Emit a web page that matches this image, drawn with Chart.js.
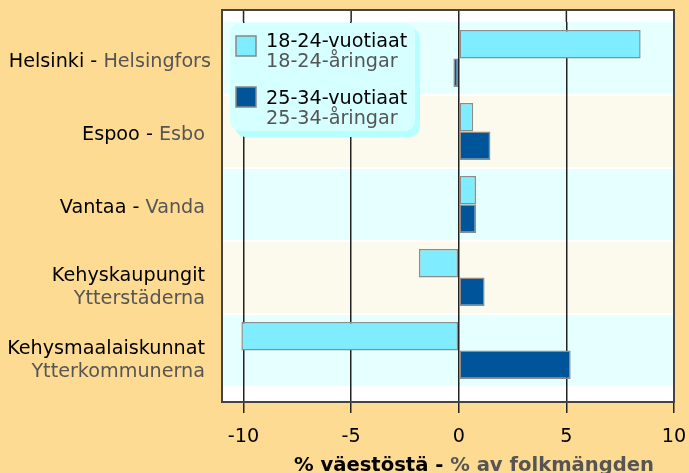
<!DOCTYPE html>
<html>
<head>
<meta charset="utf-8">
<script src="https://cdn.jsdelivr.net/npm/chart.js@4"></script>
<style>
  html, body { margin: 0; padding: 0; background: #fedb93; }
  #wrap { width: 689px; height: 473px; }
</style>
</head>
<body>
<div id="wrap"><canvas id="chart" width="689" height="473"></canvas></div>
<script>
// region names, Finnish + Swedish
const regionsFi = ["Helsinki", "Espoo", "Vantaa", "Kehyskaupungit", "Kehysmaalaiskunnat"];
const regionsSv = ["Helsingfors", "Esbo", "Vanda", "Ytterstäderna", "Ytterkommunerna"];

// change, % of population
const age18to24 = [8.45, 0.67, 0.8, -1.85, -10.1];
const age25to34 = [-0.25, 1.47, 0.8, 1.2, 5.2];

const seriesFi = ["18-24-vuotiaat", "25-34-vuotiaat"];
const seriesSv = ["18-24-åringar", "25-34-åringar"];

const tickValues = [-10, -5, 0, 5, 10];
const axisTitleFi = "% väestöstä - ";
const axisTitleSv = "% av folkmängden";

const FONT = "19.2px 'DejaVu Sans'";
const BOLD = "bold 19.6px 'DejaVu Sans'";
const GREY = "#555";
const LIGHT = "#80ecff";
const DARK = "#00549a";
const LINE = "#222";

const frame = { left: 222, top: 10, right: 674, bottom: 402 };

const decorPlugin = {
  id: "decor",
  beforeDraw(chart) {
    const ctx = chart.ctx;
    const y = chart.scales.y;
    ctx.save();
    ctx.fillStyle = "#fedb93";
    ctx.fillRect(0, 0, chart.width, chart.height);
    ctx.fillStyle = "#fff";
    ctx.fillRect(frame.left, frame.top, frame.right - frame.left, frame.bottom - frame.top);
    // alternating bands per region
    const half = (y.getPixelForValue(1) - y.getPixelForValue(0)) / 2;
    regionsFi.forEach((r, i) => {
      const c = y.getPixelForValue(i);
      const top = i === 0 ? c - half : c - half + 1;
      const bot = c + half - 1;
      ctx.fillStyle = i % 2 === 0 ? "#e6ffff" : "#fbfaec";
      ctx.fillRect(frame.left, top, frame.right - frame.left, bot - top);
    });
    ctx.restore();
  },
  beforeDatasetsDraw(chart) {
    // gridlines continue up to the frame top
    const ctx = chart.ctx;
    const x = chart.scales.x;
    ctx.save();
    ctx.strokeStyle = LINE;
    ctx.lineWidth = 1.5;
    tickValues.forEach(v => {
      const px = x.getPixelForValue(v);
      ctx.beginPath();
      ctx.moveTo(px, frame.top);
      ctx.lineTo(px, chart.chartArea.top);
      ctx.stroke();
    });
    ctx.restore();
  },
  afterDraw(chart) {
    const ctx = chart.ctx;
    const y = chart.scales.y;
    ctx.save();

    // frame
    ctx.strokeStyle = "#444";
    ctx.lineWidth = 2;
    ctx.strokeRect(frame.left, frame.top, frame.right - frame.left, frame.bottom - frame.top);

    // region labels
    ctx.font = FONT;
    ctx.textAlign = "right";
    ctx.textBaseline = "alphabetic";
    regionsFi.forEach((fi, i) => {
      const c = y.getPixelForValue(i);
      const sv = regionsSv[i];
      const right = i === 0 ? 211 : 205;
      if (fi.length > 10) {
        ctx.fillStyle = "#000";
        ctx.fillText(fi, right, c + 3.5);
        ctx.fillStyle = GREY;
        ctx.fillText(sv, right, c + 26.5);
      } else {
        ctx.fillStyle = GREY;
        ctx.fillText(sv, right, c + 8);
        const w = ctx.measureText(sv).width;
        ctx.fillStyle = "#000";
        ctx.fillText(fi + " - ", right - w, c + 8);
      }
    });

    // axis title
    ctx.font = BOLD;
    ctx.textAlign = "left";
    const w1 = ctx.measureText(axisTitleFi).width;
    const w2 = ctx.measureText(axisTitleSv).width;
    const tx = 474 - (w1 + w2) / 2;
    ctx.fillStyle = "#000";
    ctx.fillText(axisTitleFi, tx, 471);
    ctx.fillStyle = GREY;
    ctx.fillText(axisTitleSv, tx + w1, 471);

    // legend
    ctx.fillStyle = "#b5ffff";
    ctx.beginPath();
    ctx.roundRect(235, 28, 185, 109, 10);
    ctx.fill();
    ctx.fillStyle = "#d6ffff";
    ctx.beginPath();
    ctx.roundRect(230, 23, 185, 108, 10);
    ctx.fill();

    const colors = [LIGHT, DARK];
    const swY = [36, 87];
    const baseFi = [47, 104];
    const baseSv = [67, 124];
    ctx.font = FONT;
    for (let k = 0; k < 2; k++) {
      ctx.fillStyle = colors[k];
      ctx.fillRect(236, swY[k], 20, 20);
      ctx.strokeStyle = "#888";
      ctx.lineWidth = 1.5;
      ctx.strokeRect(236, swY[k], 20, 20);
      ctx.fillStyle = "#000";
      ctx.fillText(seriesFi[k], 266, baseFi[k]);
      ctx.fillStyle = GREY;
      ctx.fillText(seriesSv[k], 266, baseSv[k]);
    }
    ctx.restore();
  }
};

new Chart(document.getElementById("chart"), {
  type: "bar",
  data: {
    labels: regionsFi,
    datasets: [
      {
        label: seriesFi[0],
        data: age18to24,
        backgroundColor: LIGHT,
        borderColor: "#8c8c8c",
        borderWidth: 1.5,
        borderSkipped: false,
        categoryPercentage: 0.78,
        barPercentage: 1
      },
      {
        label: seriesFi[1],
        data: age25to34,
        backgroundColor: DARK,
        borderColor: "#8c8c8c",
        borderWidth: 1.5,
        borderSkipped: false,
        categoryPercentage: 0.78,
        barPercentage: 1
      }
    ]
  },
  options: {
    indexAxis: "y",
    responsive: false,
    animation: false,
    devicePixelRatio: 1,
    layout: { padding: { left: 222, right: 15, top: 22, bottom: 0 } },
    scales: {
      x: {
        type: "linear",
        min: -11,
        max: 10,
        afterBuildTicks: s => { s.ticks = tickValues.map(v => ({ value: v })); },
        afterFit: s => { s.height = 86; s.paddingLeft = 0; s.paddingRight = 0; },
        grid: { color: LINE, lineWidth: 1.5, tickLength: 26, tickColor: LINE },
        border: { display: false },
        ticks: { font: { family: "DejaVu Sans", size: 19.2 }, color: "#000", padding: 12, maxRotation: 0 }
      },
      y: { display: false }
    },
    plugins: { legend: { display: false }, tooltip: { enabled: false } }
  },
  plugins: [decorPlugin]
});
</script>
</body>
</html>
